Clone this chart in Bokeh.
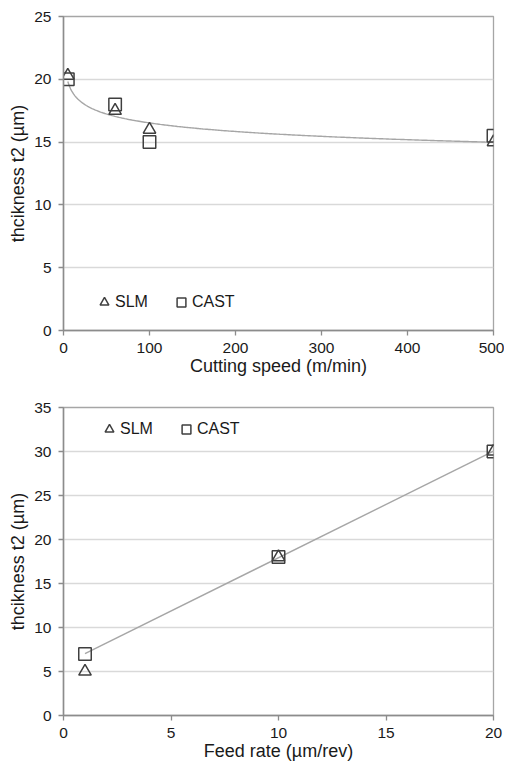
import numpy as np
from bokeh.plotting import figure
from bokeh.layouts import column
from bokeh.models import Range1d, FixedTicker, Legend, LegendItem
from bokeh.embed import file_html
from bokeh.resources import INLINE

# ---- data ----
speed = [5, 60, 100, 500]
speed_slm = [20.3, 17.5, 16.0, 15.0]
speed_cast = [20.0, 18.0, 15.0, 15.5]
speed_ticks = [0, 100, 200, 300, 400, 500]
speed_yticks = [0, 5, 10, 15, 20, 25]

feed = [1, 10, 20]
feed_slm = [5.0, 18.0, 30.0]
feed_cast = [7.0, 18.0, 30.0]
feed_ticks = [0, 5, 10, 15, 20]
feed_yticks = [0, 5, 10, 15, 20, 25, 30, 35]

FONT = "Liberation Sans"
MARK = "#3f3f3f"
TREND = "#a6a6a6"
GRID = "#d9d9d9"
AXIS = "#8c8c8c"
TXT = "#1a1a1a"


def style(p, xticks, yticks, xlabel, ylabel):
    p.xaxis.ticker = FixedTicker(ticks=xticks)
    p.yaxis.ticker = FixedTicker(ticks=yticks)
    p.xgrid.visible = False
    p.ygrid.grid_line_color = GRID
    p.ygrid.grid_line_width = 1.3
    p.outline_line_color = "#a6a6a6"
    p.outline_line_width = 1.3
    for ax in (p.xaxis, p.yaxis):
        ax.axis_line_color = AXIS
        ax.axis_line_width = 1.5
        ax.major_tick_line_color = AXIS
        ax.major_tick_line_width = 1.3
        ax.major_tick_out = 5
        ax.major_tick_in = 0
        ax.minor_tick_line_color = None
        ax.major_label_text_font = FONT
        ax.major_label_text_font_size = "15.5px"
        ax.major_label_text_color = TXT
        ax.axis_label_text_font = FONT
        ax.axis_label_text_font_size = "18px"
        ax.axis_label_text_font_style = "normal"
        ax.axis_label_text_color = TXT
    p.xaxis.major_label_standoff = 7
    p.yaxis.major_label_standoff = 7
    p.xaxis.axis_label_standoff = 0
    p.yaxis.axis_label_standoff = 3
    p.xaxis.axis_label = xlabel
    p.yaxis.axis_label = ylabel


def add_legend(p, r_slm, r_cast, loc):
    leg = Legend(items=[LegendItem(label="SLM", renderers=[r_slm]),
                        LegendItem(label="CAST", renderers=[r_cast])],
                 orientation="horizontal", location=loc)
    leg.glyph_width = 22
    leg.glyph_height = 22
    leg.label_standoff = 0
    leg.spacing = 22
    leg.padding = 0
    leg.margin = 0
    leg.border_line_color = None
    leg.background_fill_alpha = 0
    leg.label_text_font = FONT
    leg.label_text_font_size = "16px"
    leg.label_text_color = TXT
    p.add_layout(leg)


# ---- top chart ----
p1 = figure(width=504, height=380, output_backend="svg", toolbar_location=None,
            x_range=Range1d(0, 500), y_range=Range1d(0, 25),
            min_border_left=63, min_border_right=11, min_border_top=16,
            min_border_bottom=50)
style(p1, speed_ticks, speed_yticks, "Cutting speed (m/min)", "thcikness t2 (µm)")

# power trendline fitted to CAST data
b, lna = np.polyfit(np.log(speed), np.log(speed_cast), 1)
xs = np.linspace(min(speed), max(speed), 300)
p1.line(xs, np.exp(lna) * xs ** b, line_color=TREND, line_width=1.4)
r1 = p1.scatter(speed, speed_slm, marker="triangle", size=12.5, fill_color=None,
                line_color=MARK, line_width=1.5)
r2 = p1.scatter(speed, speed_cast, marker="square", size=12.5, fill_color=None,
                line_color=MARK, line_width=1.5)
add_legend(p1, r1, r2, (30, 17))

# ---- bottom chart ----
p2 = figure(width=504, height=383, output_backend="svg", toolbar_location=None,
            x_range=Range1d(0, 20), y_range=Range1d(0, 35),
            min_border_left=60, min_border_right=11, min_border_top=27,
            min_border_bottom=45)
style(p2, feed_ticks, feed_yticks, "Feed rate (µm/rev)", "thcikness t2 (µm)")

m, c = np.polyfit(feed, feed_cast, 1)
fx = np.array([min(feed), max(feed)])
p2.line(fx, m * fx + c, line_color=TREND, line_width=1.4)
r3 = p2.scatter(feed, feed_slm, marker="triangle", size=12.5, fill_color=None,
                line_color=MARK, line_width=1.5)
r4 = p2.scatter(feed, feed_cast, marker="square", size=12.5, fill_color=None,
                line_color=MARK, line_width=1.5)
add_legend(p2, r3, r4, (35, 275))

layout = column(p1, p2, spacing=0)
open("out.html", "w").write(file_html(layout, INLINE))
